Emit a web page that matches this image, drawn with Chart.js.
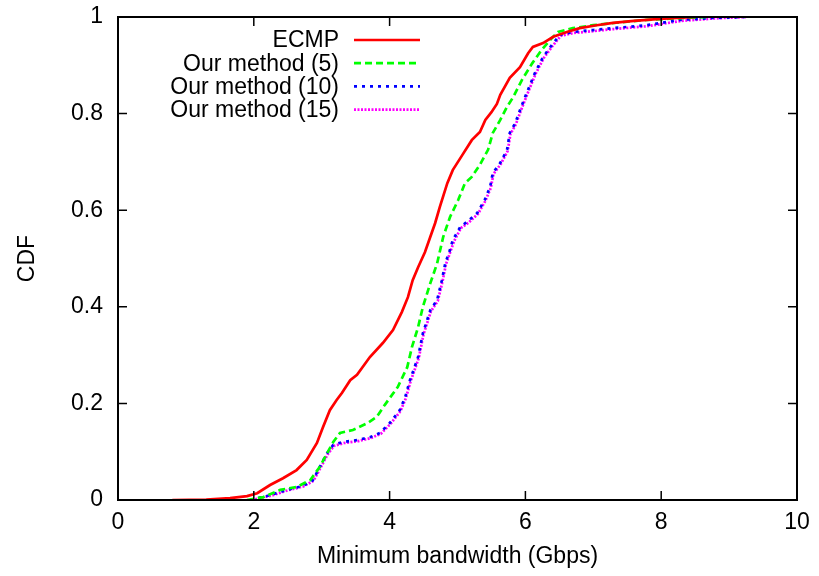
<!DOCTYPE html>
<html>
<head>
<meta charset="utf-8">
<script src="https://cdn.jsdelivr.net/npm/chart.js@4/dist/chart.umd.min.js"></script>
<style>
  html, body { margin: 0; padding: 0; background: #fff; }
  canvas { display: block; }
</style>
</head>
<body>
<canvas id="cdf" width="819" height="576"></canvas>
<script>
// values
const seriesLabels = ['ECMP', 'Our method (5)', 'Our method (10)', 'Our method (15)'];

const ecmpX = [0.8, 1.3, 1.65, 1.9, 2.05, 2.24, 2.43, 2.63, 2.78, 2.93, 3.02, 3.12, 3.22, 3.3, 3.42, 3.52, 3.71, 3.9, 4.05, 4.18, 4.27, 4.34, 4.42, 4.52, 4.6, 4.67, 4.74, 4.85, 4.93, 5.07, 5.21, 5.33, 5.41, 5.5, 5.58, 5.63, 5.77, 5.92, 6.04, 6.11, 6.26, 6.41, 6.61, 6.8, 7.05, 7.29, 7.6, 7.98, 8.5];
const ecmpY = [0, 0.001, 0.004, 0.008, 0.014, 0.031, 0.045, 0.062, 0.083, 0.118, 0.151, 0.186, 0.207, 0.222, 0.248, 0.259, 0.296, 0.325, 0.352, 0.389, 0.42, 0.455, 0.482, 0.513, 0.545, 0.573, 0.607, 0.656, 0.683, 0.714, 0.745, 0.762, 0.787, 0.803, 0.82, 0.839, 0.874, 0.896, 0.925, 0.938, 0.946, 0.959, 0.969, 0.977, 0.983, 0.988, 0.992, 0.996, 1.0];

const m5X = [1.9, 2.14, 2.39, 2.63, 2.83, 2.97, 3.08, 3.17, 3.27, 3.46, 3.67, 3.81, 3.93, 4.12, 4.26, 4.33, 4.42, 4.49, 4.6, 4.7, 4.79, 4.89, 5.01, 5.11, 5.21, 5.33, 5.45, 5.52, 5.63, 5.73, 5.82, 5.95, 6.1, 6.24, 6.36, 6.48, 6.7, 7.0, 7.4, 7.79, 8.2, 8.67];
const m5Y = [0, 0.006, 0.021, 0.027, 0.041, 0.068, 0.097, 0.12, 0.139, 0.145, 0.159, 0.172, 0.197, 0.234, 0.275, 0.317, 0.358, 0.4, 0.449, 0.49, 0.545, 0.586, 0.621, 0.656, 0.669, 0.694, 0.725, 0.76, 0.787, 0.814, 0.834, 0.87, 0.904, 0.932, 0.952, 0.969, 0.977, 0.983, 0.989, 0.994, 0.997, 1.0];

const m10X = [1.95, 2.24, 2.49, 2.72, 2.87, 2.97, 3.08, 3.17, 3.31, 3.52, 3.71, 3.86, 4.0, 4.15, 4.23, 4.3, 4.42, 4.49, 4.6, 4.7, 4.77, 4.82, 4.89, 4.93, 5.04, 5.14, 5.29, 5.4, 5.48, 5.52, 5.63, 5.73, 5.77, 5.85, 5.92, 6.02, 6.14, 6.26, 6.39, 6.51, 6.7, 7.0, 7.29, 7.79, 8.28, 8.76, 9.23];
const m10Y = [0, 0.01, 0.021, 0.029, 0.041, 0.068, 0.097, 0.114, 0.12, 0.124, 0.13, 0.139, 0.159, 0.186, 0.213, 0.248, 0.296, 0.345, 0.393, 0.414, 0.455, 0.49, 0.518, 0.538, 0.565, 0.576, 0.594, 0.621, 0.648, 0.677, 0.698, 0.725, 0.76, 0.78, 0.807, 0.843, 0.884, 0.917, 0.942, 0.963, 0.969, 0.973, 0.977, 0.983, 0.994, 0.998, 1.0];

const m15X = [1.97, 2.26, 2.5, 2.73, 2.88, 2.98, 3.09, 3.18, 3.33, 3.54, 3.72, 3.87, 4.01, 4.16, 4.24, 4.31, 4.43, 4.5, 4.61, 4.71, 4.78, 4.83, 4.9, 4.95, 5.05, 5.16, 5.3, 5.41, 5.49, 5.53, 5.64, 5.74, 5.78, 5.86, 5.93, 6.03, 6.15, 6.27, 6.4, 6.52, 6.72, 7.02, 7.3, 7.8, 8.3, 8.78, 9.25];
const m15Y = [0, 0.009, 0.02, 0.028, 0.04, 0.066, 0.095, 0.112, 0.118, 0.122, 0.128, 0.137, 0.157, 0.184, 0.211, 0.246, 0.294, 0.343, 0.391, 0.412, 0.453, 0.488, 0.516, 0.536, 0.563, 0.574, 0.592, 0.619, 0.646, 0.675, 0.696, 0.723, 0.758, 0.778, 0.805, 0.841, 0.882, 0.915, 0.94, 0.961, 0.967, 0.971, 0.975, 0.981, 0.992, 0.997, 1.0];

const xTicks = [0, 2, 4, 6, 8, 10];
const yTicks = [0, 0.2, 0.4, 0.6, 0.8, 1];
const xTitle = 'Minimum bandwidth (Gbps)';
const yTitle = 'CDF';

const font = 'Liberation Sans, Arial, Helvetica, sans-serif';

function pts(xs, ys) {
  return xs.map((x, i) => ({ x, y: ys[i] }));
}

// gnuplot style: inward ticks on all four sides, plus a frame
const framePlugin = {
  id: 'frame',
  afterDatasetsDraw(chart) {
    const { ctx, chartArea: a, scales } = chart;
    const len = 9;
    ctx.save();
    ctx.strokeStyle = '#000';
    ctx.lineWidth = 1.5;
    ctx.beginPath();
    xTicks.forEach((v) => {
      const px = scales.x.getPixelForValue(v);
      ctx.moveTo(px, a.bottom); ctx.lineTo(px, a.bottom - len);
      ctx.moveTo(px, a.top); ctx.lineTo(px, a.top + len);
    });
    yTicks.forEach((v) => {
      const py = scales.y.getPixelForValue(v);
      ctx.moveTo(a.left, py); ctx.lineTo(a.left + len, py);
      ctx.moveTo(a.right, py); ctx.lineTo(a.right - len, py);
    });
    ctx.stroke();
    ctx.lineWidth = 2;
    ctx.strokeRect(a.left, a.top, a.right - a.left, a.bottom - a.top);
    ctx.restore();
  },
};

// key in the top left, text right aligned before the line sample
const keyPlugin = {
  id: 'key',
  afterDatasetsDraw(chart) {
    const { ctx, chartArea: a } = chart;
    ctx.save();
    ctx.font = '23px ' + font;
    ctx.textAlign = 'right';
    ctx.textBaseline = 'middle';
    chart.data.datasets.forEach((ds, i) => {
      const y = a.top + 23 + i * 23.2;
      ctx.fillStyle = '#000';
      ctx.fillText(ds.label, a.left + 221, y + 1);
      ctx.strokeStyle = ds.borderColor;
      ctx.lineWidth = ds.borderWidth;
      ctx.setLineDash(ds.borderDash || []);
      ctx.beginPath();
      ctx.moveTo(a.left + 236, y);
      ctx.lineTo(a.left + 302, y);
      ctx.stroke();
    });
    ctx.restore();
  },
};

new Chart(document.getElementById('cdf'), {
  type: 'line',
  data: {
    datasets: [
      { label: seriesLabels[0], data: pts(ecmpX, ecmpY), borderColor: '#ff0000', borderWidth: 2.7 },
      { label: seriesLabels[1], data: pts(m5X, m5Y), borderColor: '#00ff00', borderWidth: 2.7, borderDash: [7, 4] },
      { label: seriesLabels[2], data: pts(m10X, m10Y), borderColor: '#0000ff', borderWidth: 2.7, borderDash: [3, 5] },
      { label: seriesLabels[3], data: pts(m15X, m15Y), borderColor: '#ff00ff', borderWidth: 2.7, borderDash: [2, 1.5] },
    ],
  },
  options: {
    responsive: false,
    animation: false,
    devicePixelRatio: 1,
    elements: { point: { radius: 0 }, line: { tension: 0 } },
    layout: { padding: { left: 0, top: 17, right: 22, bottom: 0 } },
    plugins: { legend: { display: false }, tooltip: { enabled: false } },
    scales: {
      x: {
        type: 'linear',
        min: 0,
        max: 10,
        afterFit: (s) => { s.height = 76; s.paddingLeft = 0; s.paddingRight = 0; },
        afterBuildTicks: (s) => { s.ticks = xTicks.map((v) => ({ value: v })); },
        ticks: { color: '#000', font: { family: font, size: 23 }, padding: 9, maxRotation: 0 },
        grid: { display: false, drawTicks: false },
        border: { display: false },
        title: { display: true, text: xTitle, color: '#000', font: { family: font, size: 23 }, padding: { top: 0, bottom: 6 } },
      },
      y: {
        min: 0,
        max: 1,
        afterFit: (s) => { s.width = 118; s.paddingTop = 0; s.paddingBottom = 0; },
        afterBuildTicks: (s) => { s.ticks = yTicks.map((v) => ({ value: v })); },
        ticks: { color: '#000', font: { family: font, size: 23 }, padding: 15, callback: (v) => String(Math.round(v * 10) / 10) },
        grid: { display: false, drawTicks: false },
        border: { display: false },
        title: { display: true, text: yTitle, color: '#000', font: { family: font, size: 23 }, padding: { top: 14, bottom: 0 } },
      },
    },
  },
  plugins: [framePlugin, keyPlugin],
});
</script>
</body>
</html>
